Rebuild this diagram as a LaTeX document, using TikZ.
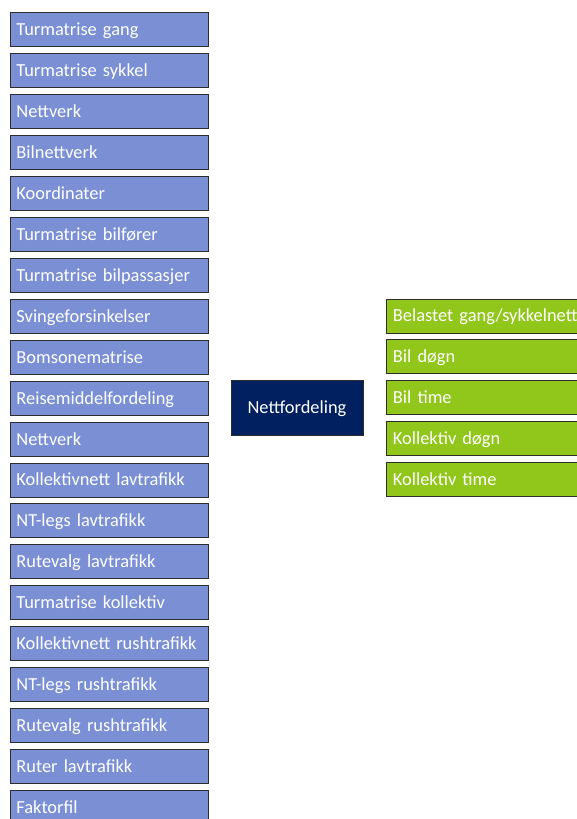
\documentclass[tikz,border=0pt]{standalone}
\usepackage{fontspec}
\setmainfont{Carlito}[WordSpace=0.6]
\definecolor{inbox}{RGB}{123,143,212}
\definecolor{navy}{RGB}{0,32,96}
\definecolor{outgreen}{RGB}{145,198,27}
\definecolor{edgegray}{RGB}{45,45,45}
\begin{document}
\begin{tikzpicture}[x=1pt,y=-1pt,
  box/.style={draw=edgegray, line width=0.9pt, rectangle, anchor=north west,
    minimum height=34pt, inner xsep=6.5pt, inner ysep=0pt,
    text=white, font=\fontsize{18.4}{20}\selectfont,
    text height=12pt, text depth=0pt, align=left},
  inbox/.style={box, fill=inbox, minimum width=198.5pt, text width=185.5pt},
  outbox/.style={box, fill=outgreen, minimum width=240pt, text width=227pt},
  mainbox/.style={draw=edgegray, line width=0.9pt, rectangle, fill=navy,
    minimum width=132pt, minimum height=55pt, text=white,
    font=\fontsize{18.4}{20}\selectfont, text height=12pt, text depth=0pt}]
\useasboundingbox (0,0) rectangle (577,819);
\clip (0,0) rectangle (577,819);
\fill[white] (0,0) rectangle (577,819);
\foreach \t [count=\i from 0] in {Turmatrise gang, Turmatrise sykkel, Nettverk, Bilnettverk, Koordinater, Turmatrise bilfører, Turmatrise bilpassasjer, Svingeforsinkelser, Bomsonematrise, Reisemiddelfordeling, Nettverk, Kollektivnett lavtrafikk, NT-legs lavtrafikk, Rutevalg lavtrafikk, Turmatrise kollektiv, Kollektivnett rushtrafikk, NT-legs rushtrafikk, Rutevalg rushtrafikk, Ruter lavtrafikk, Faktorfil}
  \node[inbox] (in\i) at (9.5, 12.3+\i*40.93) {\t};
\node[mainbox] (nett) at (297, 407.5) {Nettfordeling};
\foreach \t [count=\i from 0] in {Belastet gang/sykkelnett, Bil døgn, Bil time, Kollektiv døgn, Kollektiv time}
  \node[outbox] (out\i) at (386, 298.5+\i*40.93) {\t};
\end{tikzpicture}
\end{document}
